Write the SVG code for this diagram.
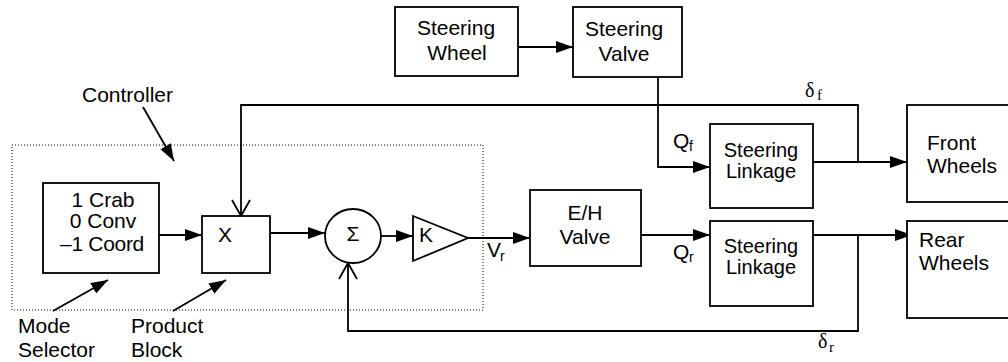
<svg xmlns="http://www.w3.org/2000/svg" width="1008" height="362" viewBox="0 0 1008 362">
<defs>
<style>
.box{fill:#fff;stroke:#000;stroke-width:1.8}
.ln{fill:none;stroke:#000;stroke-width:1.8}
.t{font-family:"Liberation Sans",Arial,sans-serif;font-size:21px;fill:#000}
.tl{font-family:"Liberation Sans",Arial,sans-serif;font-size:20px;fill:#000}
.tm{text-anchor:middle}
.sub{font-family:"Liberation Sans",Arial,sans-serif;font-size:14px;fill:#000}
.sym{font-family:"Liberation Serif","Times New Roman",serif;font-size:20px;fill:#000}
.ssub{font-family:"Liberation Serif","Times New Roman",serif;font-size:15px;fill:#000}
</style>
<marker id="ah" markerUnits="userSpaceOnUse" markerWidth="17" markerHeight="12" refX="17" refY="6" orient="auto">
<path d="M0,0 L17,6 L0,12 z" fill="#000"/>
</marker>
<marker id="oh" markerUnits="userSpaceOnUse" markerWidth="18" markerHeight="20" refX="17" refY="10" orient="auto">
<path d="M1,1 L17,10 L1,19" fill="none" stroke="#000" stroke-width="1.8"/>
</marker>
</defs>
<rect width="1008" height="362" fill="#fff"/>

<g id="controller-boundary">
<rect x="12" y="145" width="471" height="165" fill="none" stroke="#000" stroke-width="1" stroke-dasharray="1,2"/>
</g>

<g id="connectors">
<path class="ln" d="M513,47 H573" marker-end="url(#ah)"/>
<path class="ln" d="M658,66 V167 H710" marker-end="url(#ah)"/>
<path class="ln" d="M858,162 V105 H241 V216" marker-end="url(#oh)"/>
<path class="ln" d="M159,235 H202" marker-end="url(#ah)"/>
<path class="ln" d="M270,233 H325" marker-end="url(#ah)"/>
<path class="ln" d="M381,236 H413" marker-end="url(#ah)"/>
<path class="ln" d="M468,238 H530" marker-end="url(#ah)"/>
<path class="ln" d="M641,235 H710" marker-end="url(#ah)"/>
<path class="ln" d="M813,162 H907" marker-end="url(#ah)"/>
<path class="ln" d="M810,235 H912" marker-end="url(#ah)"/>
<path class="ln" d="M858,235 V331 H348 V263" marker-end="url(#oh)"/>
<path class="ln" d="M143,107 L174,161" marker-end="url(#ah)"/>
<path class="ln" d="M53,311 L108,280" marker-end="url(#ah)"/>
<path class="ln" d="M173,311 L226,280" marker-end="url(#ah)"/>
</g>

<g id="steering-wheel">
<rect class="box" x="395" y="7" width="123" height="69"/>
<text class="t tm" x="456" y="35">Steering</text>
<text class="t tm" x="457" y="60">Wheel</text>
</g>

<g id="steering-valve">
<rect class="box" x="573" y="7" width="109" height="70"/>
<text class="t tm" x="624" y="36">Steering</text>
<text class="t tm" x="624" y="61">Valve</text>
</g>

<g id="mode-selector">
<rect class="box" x="43" y="183" width="116" height="90"/>
<text class="t tm" x="103" y="207">1 Crab</text>
<text class="t tm" x="103" y="228">0 Conv</text>
<text class="t tm" x="102" y="251" letter-spacing="-0.3">–1 Coord</text>
</g>

<g id="product-block">
<rect class="box" x="202" y="216" width="68" height="57"/>
<text class="t tm" x="225" y="242">X</text>
</g>

<g id="summer">
<ellipse class="box" cx="353" cy="236" rx="28" ry="27"/>
<text class="t tm" x="353" y="241">Σ</text>
</g>

<g id="gain">
<polygon class="box" points="413,216 413,261 468,238"/>
<text class="t" x="419" y="242">K</text>
</g>

<g id="eh-valve">
<rect class="box" x="530" y="190" width="111" height="76"/>
<text class="t tm" x="585" y="220">E/H</text>
<text class="t tm" x="585" y="244">Valve</text>
</g>

<g id="front-linkage">
<rect class="box" x="710" y="124" width="103" height="84"/>
<text class="tl tm" x="761" y="157">Steering</text>
<text class="tl tm" x="761" y="178">Linkage</text>
</g>

<g id="rear-linkage">
<rect class="box" x="710" y="221" width="103" height="85"/>
<text class="tl tm" x="761" y="253">Steering</text>
<text class="tl tm" x="761" y="274">Linkage</text>
</g>

<g id="front-wheels">
<rect class="box" x="907" y="105" width="110" height="97"/>
<text class="t" x="927" y="150">Front</text>
<text class="t" x="927" y="173">Wheels</text>
</g>

<g id="rear-wheels">
<rect class="box" x="907" y="221" width="110" height="97"/>
<text class="t" x="919" y="247">Rear</text>
<text class="t" x="919" y="270">Wheels</text>
</g>

<g id="labels">
<text class="t" x="82" y="102">Controller</text>
<text class="t" x="18" y="333">Mode</text>
<text class="t" x="18" y="357">Selector</text>
<text class="t" x="131" y="333">Product</text>
<text class="t" x="131" y="357">Block</text>
<text class="t" x="487" y="257">V</text><text class="sub" x="500" y="261">r</text>
<text class="t" x="673" y="148">Q</text><text class="sub" x="689" y="151">f</text>
<text class="t" x="673" y="259">Q</text><text class="sub" x="689" y="262">r</text>
<text class="sym" x="805" y="97">δ</text><text class="ssub" x="817" y="100">f</text>
<text class="sym" x="818" y="348">δ</text><text class="ssub" x="829" y="352">r</text>
</g>
</svg>
